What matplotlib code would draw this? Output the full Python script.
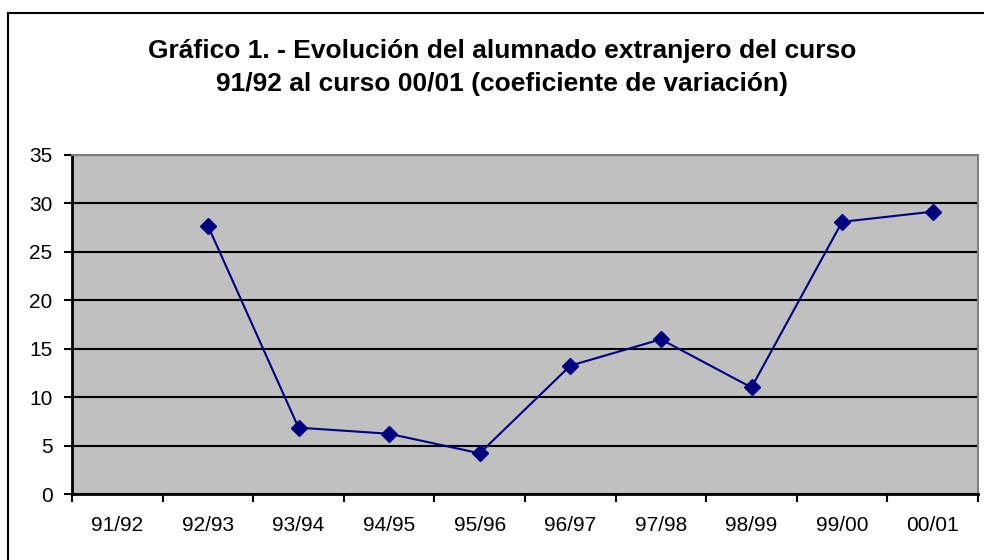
import matplotlib
matplotlib.use("Agg")
import matplotlib.pyplot as plt
import numpy as np

categories = ["91/92", "92/93", "93/94", "94/95", "95/96", "96/97", "97/98", "98/99", "99/00", "00/01"]
values = [np.nan, 27.7, 6.85, 6.22, 4.2, 13.25, 15.97, 11.0, 28.1, 29.15]
yticks = [0, 5, 10, 15, 20, 25, 30, 35]
title_lines = ["Gráfico 1. - Evolución del alumnado extranjero del curso",
               "91/92 al curso 00/01 (coeficiente de variación)"]

plt.rcParams['font.family'] = ['Liberation Sans', 'DejaVu Sans']

fig = plt.figure(figsize=(9.84, 5.6), dpi=100)
fig.patch.set_facecolor("white")

# outer chart border (left and top visible)
fig.add_artist(plt.Line2D([7.5/984, 7.5/984], [0, 1 - 13/560], color="black", lw=1.5, transform=fig.transFigure))
fig.add_artist(plt.Line2D([7.5/984, 1], [1 - 13/560, 1 - 13/560], color="black", lw=1.5, transform=fig.transFigure))

ax = fig.add_axes([72/984, 66/560, (978-72)/984, (494-155)/560])
ax.set_facecolor("#C0C0C0")

x = np.arange(len(categories))
ax.plot(x, values, color="#000080", lw=1.5, marker="D", markersize=8.5, markerfacecolor="#000080", markeredgecolor="#000080")

ax.set_xlim(-0.5, len(categories) - 0.5)
ax.set_ylim(0, 35)
ax.set_yticks(yticks)
ax.set_yticklabels([str(v) for v in yticks], fontsize=15)
ax.set_xticks(np.arange(-0.5, len(categories), 1.0))
ax.set_xticklabels([])
ax.set_xticks(x, minor=True)
ax.set_xticklabels(categories, minor=True, fontsize=15)
ax.tick_params(axis="x", which="minor", length=0, pad=16)
ax.tick_params(axis="x", which="major", length=6, width=1.5, direction="out")
ax.tick_params(axis="y", length=6, width=1.5, direction="out", pad=8)

ax.grid(axis="y", color="black", lw=1.5)
ax.set_axisbelow(True)
for s in ["left", "bottom"]:
    ax.spines[s].set_color("black")
    ax.spines[s].set_linewidth(2)
for s in ["top", "right"]:
    ax.spines[s].set_color("#808080")
    ax.spines[s].set_linewidth(1.5)

fig.text(502/984, 1 - 58/560, title_lines[0], ha="center", va="baseline", fontsize=19, fontweight="bold")
fig.text(502/984, 1 - 91/560, title_lines[1], ha="center", va="baseline", fontsize=19, fontweight="bold")

fig.savefig("out.png", dpi=100)
